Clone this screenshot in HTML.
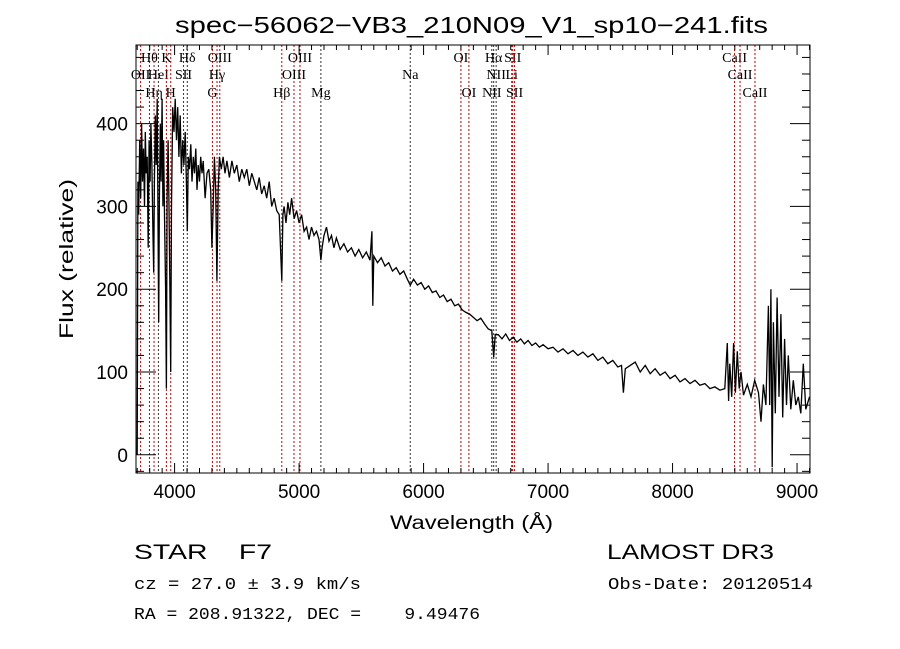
<!DOCTYPE html>
<html><head><meta charset="utf-8"><style>
html,body{margin:0;padding:0;background:#fff;}
svg{display:block;}
.t{font-family:"Liberation Sans",sans-serif;fill:#000;}
.m{font-family:"Liberation Mono",monospace;fill:#000;}
.s{font-family:"Liberation Serif",serif;fill:#000;font-size:14px;}
</style></head><body>
<svg id="chart" width="900" height="649" viewBox="0 0 900 649">
<rect width="900" height="649" fill="#fff"/>
<text class="t" x="175" y="33" font-size="23" textLength="593" lengthAdjust="spacingAndGlyphs">spec−56062−VB3_210N09_V1_sp10−241.fits</text>
<g id="lines"></g>
<g id="spec"></g>
<g id="axes"></g>
<text class="t" x="390" y="529" font-size="19" textLength="163" lengthAdjust="spacingAndGlyphs">Wavelength (Å)</text>
<text class="t" transform="translate(73,259) rotate(-90)" font-size="19" text-anchor="middle" textLength="160" lengthAdjust="spacingAndGlyphs">Flux (relative)</text>
<text class="t" x="134" y="559" font-size="21" xml:space="preserve" textLength="138" lengthAdjust="spacingAndGlyphs">STAR    F7</text>
<text class="t" x="607" y="559" font-size="21" textLength="167" lengthAdjust="spacingAndGlyphs">LAMOST DR3</text>
<text class="m" x="134" y="589" font-size="17" textLength="227" lengthAdjust="spacingAndGlyphs">cz = 27.0 ± 3.9 km/s</text>
<text class="m" x="608" y="589" font-size="17" textLength="205" lengthAdjust="spacingAndGlyphs">Obs-Date: 20120514</text>
<text class="m" x="134" y="619" font-size="17" xml:space="preserve" textLength="346" lengthAdjust="spacingAndGlyphs">RA = 208.91322, DEC =    9.49476</text>
</svg>
<script>
const wavelengths=[3700,3705,3712,3720,3728,3735,3742,3750,3758,3765,3772,3780,3788,3795,3803,3810,3818,3826,3832,3838,3845,3852,3860,3866,3872,3878,3885,3892,3900,3906,3912,3920,3928,3934,3940,3948,3955,3962,3969,3975,3985,3995,4005,4015,4025,4035,4045,4055,4065,4075,4085,4095,4102,4110,4120,4130,4140,4150,4160,4170,4180,4190,4200,4210,4220,4230,4245,4260,4275,4290,4300,4310,4320,4330,4340,4350,4360,4375,4390,4405,4420,4440,4460,4480,4500,4520,4540,4560,4580,4600,4620,4640,4660,4680,4700,4720,4740,4760,4780,4800,4820,4840,4861,4870,4880,4895,4910,4925,4940,4960,4980,5000,5020,5040,5060,5080,5100,5120,5140,5160,5175,5185,5200,5220,5240,5260,5280,5300,5330,5360,5390,5420,5450,5480,5510,5540,5570,5585,5592,5600,5630,5660,5690,5720,5750,5780,5810,5840,5870,5893,5920,5950,5980,6010,6040,6070,6100,6130,6160,6190,6220,6250,6280,6310,6340,6370,6400,6430,6460,6490,6520,6548,6563,6575,6600,6630,6660,6690,6720,6750,6780,6810,6840,6870,6900,6930,6960,7000,7040,7080,7120,7160,7200,7240,7280,7320,7360,7400,7440,7480,7520,7560,7590,7605,7620,7660,7700,7740,7780,7820,7860,7900,7940,7980,8020,8060,8100,8140,8180,8220,8260,8300,8340,8380,8420,8440,8450,8460,8475,8490,8505,8520,8535,8550,8570,8600,8630,8660,8690,8710,8730,8750,8770,8780,8790,8800,8810,8825,8840,8855,8870,8885,8900,8915,8930,8950,8970,8990,9010,9030,9050,9070,9100];
const fluxes=[0,330,290,380,310,400,330,370,300,390,340,360,250,380,330,400,350,270,220,330,410,350,430,300,160,310,400,330,430,300,380,280,200,80,310,380,300,200,100,300,420,390,430,380,420,360,410,340,380,350,390,330,270,360,345,375,330,360,340,370,320,350,330,360,340,355,310,340,345,320,250,300,360,320,210,320,360,345,360,340,355,335,355,340,350,330,345,335,345,325,340,330,320,335,315,325,310,330,300,310,295,290,210,290,300,280,305,290,310,285,295,280,290,270,275,260,275,265,270,260,235,250,265,275,258,265,250,262,248,255,245,250,240,248,238,245,235,270,180,240,232,238,228,232,222,226,218,222,212,205,212,205,208,200,204,196,198,190,193,185,188,180,182,175,172,170,166,162,165,158,152,150,118,145,145,140,146,138,142,136,140,134,138,132,135,130,133,128,130,124,128,122,126,120,124,118,122,114,118,110,114,106,108,75,104,108,112,100,108,98,104,96,100,92,96,88,92,86,90,84,86,80,82,78,80,135,65,110,70,135,75,125,80,100,72,85,70,90,75,40,85,60,180,60,200,-15,160,50,190,70,170,45,140,60,120,55,90,60,70,50,110,55,70];
const xTicks=[4000,5000,6000,7000,8000,9000];
const yTicks=[0,100,200,300,400];
const lineWl=[3727,3798,3835,3870,3934,3969,4072,4102,4304,4341,4363,4861,4959,5007,5175,5893,6300,6364,6548,6563,6583,6708,6716,6731,8498,8542,8662];
const lineLabel=["OII","Hθ","Hη","HeI","K","H","SII","Hδ","G","Hγ","OIII","Hβ","OIII","OIII","Mg","Na","OI","OI","NII","Hα","NII","Li","SII","SII","CaII","CaII","CaII"];
const lineRow=[1,0,2,1,0,2,1,0,2,1,0,2,1,0,2,1,0,2,2,0,1,1,0,2,0,1,2];
const lineRed=[1,1,1,0,1,1,0,0,1,1,1,1,1,1,0,0,1,1,0,0,0,1,1,1,1,1,1];

const L=136,R=810,T=45,B=473,XMIN=3690,XMAX=9104,YMIN=-22,YMAX=495;
const xs=v=>L+(v-XMIN)/(XMAX-XMIN)*(R-L);
const ys=v=>B-(v-YMIN)/(YMAX-YMIN)*(B-T);
const NS='http://www.w3.org/2000/svg';
function mk(tag,attrs,parent){const e=document.createElementNS(NS,tag);for(const k in attrs)e.setAttribute(k,attrs[k]);parent.appendChild(e);return e;}

const lg=document.getElementById('lines');
const rowY=[62,79,97];
lineWl.forEach((w,i)=>{
  const x=xs(w);
  const l=mk('line',{x1:x,x2:x,y1:T,y2:B,stroke:lineRed[i]?'#c00000':'#333','stroke-width':1,'stroke-dasharray':'2,2'},lg);
  
  
  const t=mk('text',{x:x,y:rowY[lineRow[i]],'text-anchor':'middle',class:'s'},lg);
  t.textContent=lineLabel[i];
  
  
});

const sg=document.getElementById('spec');
let d='';
wavelengths.forEach((w,i)=>{d+=(i?'L':'M')+xs(w).toFixed(1)+','+ys(fluxes[i]).toFixed(1);});
const p=mk('path',{d:d,fill:'none',stroke:'#000','stroke-width':1.3},sg);



const ag=document.getElementById('axes');
const box=mk('rect',{x:L,y:T,width:R-L,height:B-T,fill:'none',stroke:'#000','stroke-width':1},ag);


for(let v=3700;v<=9100;v+=100){
  const x=xs(v),major=v%1000===0,len=major?10:5;
  mk('line',{x1:x,x2:x,y1:B,y2:B-len,stroke:'#000'},ag);
  mk('line',{x1:x,x2:x,y1:T,y2:T+len,stroke:'#000'},ag);
}
xTicks.forEach(v=>{
  const t=mk('text',{x:xs(v),y:B+25,'text-anchor':'middle',class:'t','font-size':19},ag);
  t.textContent=v;
  
  
});
for(let v=-20;v<=480;v+=20){
  const y=ys(v),major=v%100===0,len=major?20:8;
  mk('line',{x1:L,x2:L+len,y1:y,y2:y,stroke:'#000'},ag);
  mk('line',{x1:R,x2:R-len,y1:y,y2:y,stroke:'#000'},ag);
}
yTicks.forEach(v=>{
  const t=mk('text',{x:L-8,y:ys(v)+7,'text-anchor':'end',class:'t','font-size':19},ag);
  t.textContent=v;
  
  
});
</script>
</body></html>
